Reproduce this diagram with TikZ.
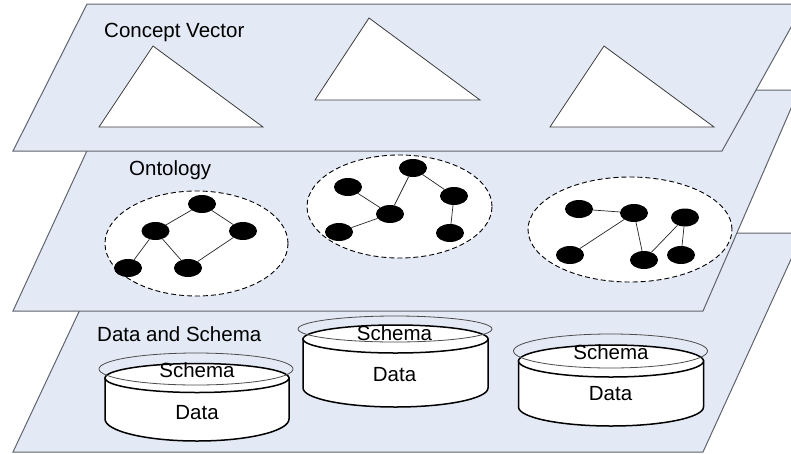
\documentclass[tikz,border=0pt]{standalone}
\usepackage{fontspec}
\setmainfont{Liberation Sans}
\usetikzlibrary{shapes.geometric}
\definecolor{layerfill}{RGB}{227,233,245}
\definecolor{layerline}{RGB}{95,100,108}
\definecolor{triline}{RGB}{60,60,60}
\begin{document}
\begin{tikzpicture}[x=1pt,y=-1pt,
  layer/.style={fill=layerfill,draw=layerline,line width=1pt,line join=miter},
  tri/.style={fill=white,draw=triline,line width=0.8pt},
  cloud/.style={ellipse,draw=black,fill=white,dash pattern=on 5pt off 3pt,line width=0.9pt,inner sep=0pt},
  dot/.style={ellipse,fill=black,minimum width=28pt,minimum height=18pt,inner sep=0pt},
  link/.style={draw=black!85,line width=0.7pt},
  lbl/.style={font=\fontsize{20.5}{24}\selectfont,inner sep=0pt},
  cylbody/.style={fill=white,draw=black,line width=1.5pt},
  halo/.style={draw=black!70,line width=0.8pt}
]
\useasboundingbox (0,0) rectangle (791,453);
\clip (0,0) rectangle (791,453);

% ---------- bottom layer: Data and Schema ----------
\path[layer] (116,233) -- (803,233) -- (703,452) -- (13,452) -- cycle;
\node[lbl,anchor=base west] (lds) at (97,341) {Data and Schema};

% cylinder 1
\path[cylbody] (105,378) -- (105,419) arc[start angle=180,end angle=0,x radius=92,y radius=22] -- (289,378) -- cycle;
\path[cylbody] (197,378) ellipse[x radius=92,y radius=14.5];
\draw[halo] (196,369) ellipse[x radius=97,y radius=16];
\node[lbl,anchor=base] (s1) at (197,377) {Schema};
\node[lbl,anchor=base] (d1) at (197,419) {Data};

% cylinder 2
\path[cylbody] (303,339) -- (303,388) arc[start angle=180,end angle=0,x radius=92.5,y radius=19] -- (488,339) -- cycle;
\path[cylbody] (395.5,339) ellipse[x radius=92.5,y radius=14];
\draw[halo] (395,329) ellipse[x radius=97,y radius=13];
\node[lbl,anchor=base] (s2) at (394.5,340) {Schema};
\node[lbl,anchor=base] (d2) at (394.5,381.5) {Data};

% cylinder 3
\path[cylbody] (518.5,361) -- (518.5,407) arc[start angle=180,end angle=0,x radius=92.5,y radius=19] -- (703.5,361) -- cycle;
\path[cylbody] (611,361) ellipse[x radius=92.5,y radius=16];
\draw[halo] (610.5,351) ellipse[x radius=97,y radius=17];
\node[lbl,anchor=base] (s3) at (611,359) {Schema};
\node[lbl,anchor=base] (d3) at (610.5,400) {Data};

% ---------- middle layer: Ontology ----------
\path[layer] (115,90) -- (799,90) -- (703,311) -- (13,311) -- cycle;
\node[lbl,anchor=base west] (lon) at (129,175) {Ontology};

\node[cloud,minimum width=183pt,minimum height=105pt] (c1) at (196.5,243.5) {};
\node[cloud,minimum width=185pt,minimum height=103pt] (c2) at (399.5,206.5) {};
\node[cloud,minimum width=204pt,minimum height=105pt] (c3) at (630,229.5) {};

% graph 1
\node[dot] (n1) at (202,204) {};
\node[dot] (n2) at (155.5,231) {};
\node[dot] (n3) at (243,231) {};
\node[dot] (n4) at (128,268) {};
\node[dot] (n5) at (188,268) {};
% graph 2
\node[dot] (p) at (348,187) {};
\node[dot] (q) at (390,214) {};
\node[dot] (r) at (339,232) {};
\node[dot] (s) at (413,168) {};
\node[dot] (t) at (454,196) {};
\node[dot] (u) at (450,233) {};
% graph 3
\node[dot] (a) at (579,209) {};
\node[dot] (b) at (634,213) {};
\node[dot] (c) at (685,217.5) {};
\node[dot] (d) at (570,255) {};
\node[dot] (e) at (644,260) {};
\node[dot] (f) at (681,255) {};

\draw[link] (n1) -- (n2);
\draw[link] (n1) -- (n3);
\draw[link] (n2) -- (n4);
\draw[link] (n2) -- (n5);
\draw[link] (n5) -- (n3);
\draw[link] (p) -- (q);
\draw[link] (q) -- (r);
\draw[link] (q) -- (s);
\draw[link] (s) -- (t);
\draw[link] (t) -- (u);
\draw[link] (a) -- (b);
\draw[link] (b) -- (d);
\draw[link] (b) -- (e);
\draw[link] (e) -- (c);
\draw[link] (c) -- (f);

% ---------- top layer: Concept Vector ----------
\path[layer] (87,4) -- (804,4) -- (722,151) -- (13,151) -- cycle;
\node[lbl,anchor=base west] (lcv) at (104,37) {Concept Vector};
\path[tri] (153,46) -- (99,127) -- (263,127) -- cycle;
\path[tri] (369,18) -- (315,100) -- (480,100) -- cycle;
\path[tri] (604,46) -- (550,127) -- (714,127) -- cycle;
\end{tikzpicture}
\end{document}
